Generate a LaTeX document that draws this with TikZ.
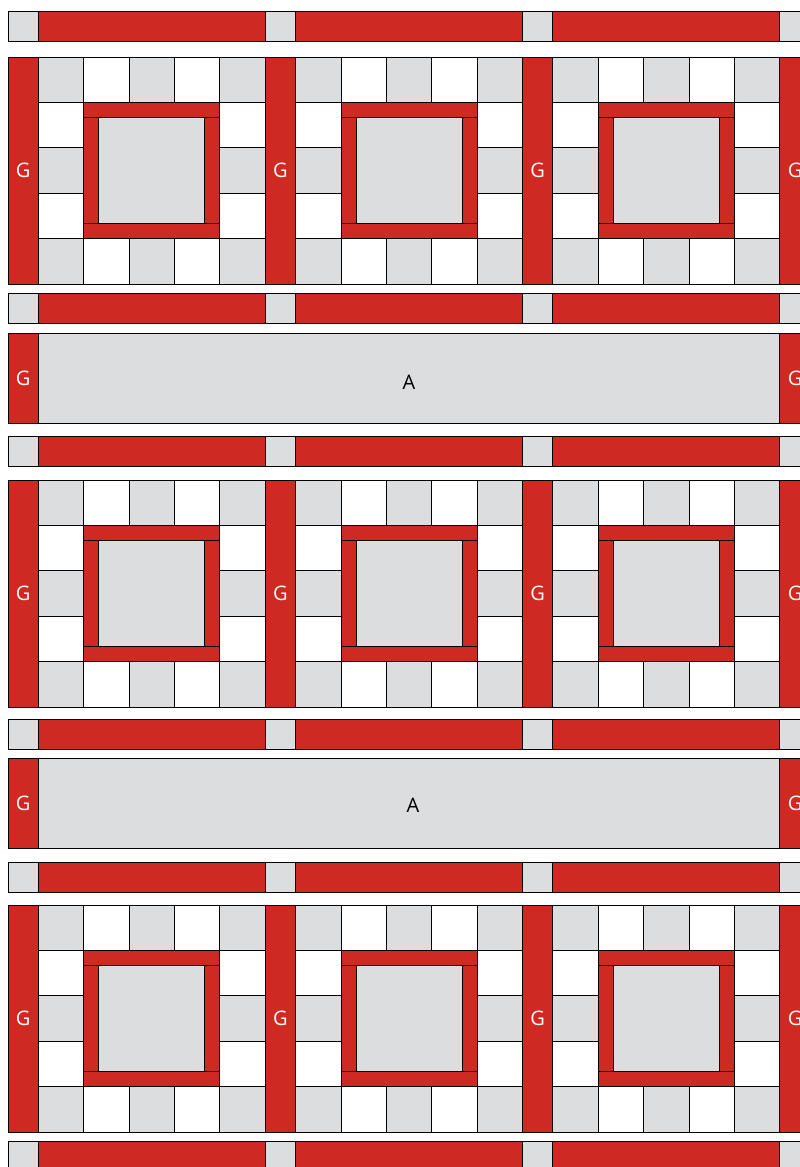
\documentclass[tikz,border=0pt]{standalone}
\usepackage{fontspec}
\setsansfont{Open Sans}
\usepackage{xcolor}
\definecolor{quiltred}{RGB}{207,42,33}
\definecolor{quiltgrey}{RGB}{220,221,223}
\def\qu{30.27}

\begin{document}
\begin{tikzpicture}[
    x=1pt, y=-1pt,
    font=\sffamily\fontsize{20}{22}\selectfont,
    piece/.style={draw=black, line width=0.8pt},
    redpc/.style={piece, fill=quiltred},
    greypc/.style={piece, fill=quiltgrey},
    whitepc/.style={piece, fill=white},
    glabel/.style={text=white, inner sep=0pt},
    alabel/.style={text=black, inner sep=0pt}
]
    \useasboundingbox (0,0) rectangle (800,1167);
    \clip (0,0) rectangle (800,1167);

    % sashing strips with corner squares
    \foreach \sy in {11,293,436,719,862,1141}{
        \foreach \k in {0,...,3}
            \draw[greypc] ({8+\k*8.5*\qu},\sy) rectangle ++(\qu,\qu);
        \foreach \k in {0,...,2}
            \draw[redpc] ({8+\qu+\k*8.5*\qu},\sy) rectangle ++(7.5*\qu,\qu);
    }

    % block rows
    \foreach \by [count=\r] in {57,480,905}{
        \foreach \k in {0,...,3}{
            \draw[redpc] ({8+\k*8.5*\qu},\by) rectangle ++(\qu,7.5*\qu);
            \node[glabel] (g\r-\k) at ({8+(\k*8.5+0.5)*\qu},{\by+3.75*\qu}) {G};
        }
        \foreach \k in {0,...,2}{
            \pgfmathsetmacro{\bx}{8+\qu+\k*8.5*\qu}
            \foreach \i in {0,...,4}{
                \foreach \j in {0,...,4}{
                    \pgfmathtruncatemacro{\edge}{(\i==0)||(\i==4)||(\j==0)||(\j==4)}
                    \pgfmathtruncatemacro{\odd}{mod(\i+\j,2)}
                    \ifnum\edge=1
                        \ifnum\odd=0 \def\cellstyle{greypc}\else\def\cellstyle{whitepc}\fi
                        \draw[\cellstyle] ({\bx+\i*1.5*\qu},{\by+\j*1.5*\qu}) rectangle ++(1.5*\qu,1.5*\qu);
                    \fi
                }
            }
            \draw[redpc] ({\bx+1.5*\qu},{\by+1.5*\qu}) rectangle ++(4.5*\qu,0.5*\qu);
            \draw[redpc] ({\bx+1.5*\qu},{\by+5.5*\qu}) rectangle ++(4.5*\qu,0.5*\qu);
            \draw[redpc] ({\bx+1.5*\qu},{\by+2*\qu}) rectangle ++(0.5*\qu,3.5*\qu);
            \draw[redpc] ({\bx+5.5*\qu},{\by+2*\qu}) rectangle ++(0.5*\qu,3.5*\qu);
            \draw[greypc] ({\bx+2*\qu},{\by+2*\qu}) rectangle ++(3.5*\qu,3.5*\qu);
        }
    }

    % plain rows A
    \foreach \ay/\ax/\aly [count=\r] in {333/409/382,758/413/805}{
        \draw[redpc] (8,\ay) rectangle ++(\qu,3*\qu);
        \draw[greypc] ({8+\qu},\ay) rectangle ({8+25.5*\qu},{\ay+3*\qu});
        \draw[redpc] ({8+25.5*\qu},\ay) rectangle ++(\qu,3*\qu);
        \node[glabel] (ga\r-l) at ({8+0.5*\qu},{\ay+1.5*\qu}) {G};
        \node[glabel] (ga\r-r) at ({8+26*\qu},{\ay+1.5*\qu}) {G};
        \node[alabel] (a\r) at (\ax,\aly) {A};
    }
\end{tikzpicture}
\end{document}
